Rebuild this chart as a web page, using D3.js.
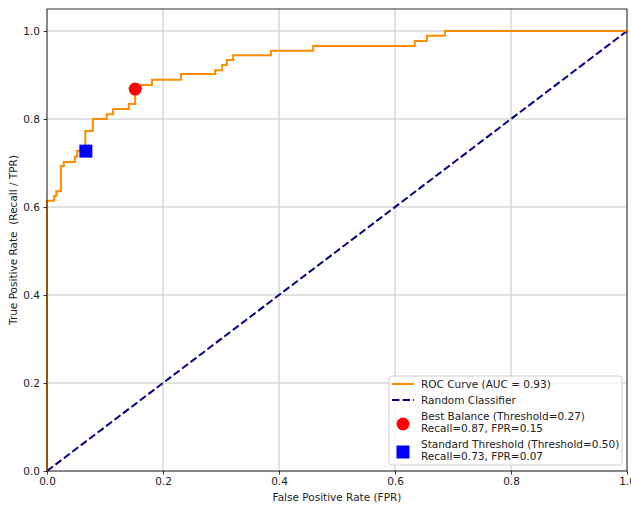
<!DOCTYPE html>
<html>
<head>
<meta charset="utf-8">
<script src="https://cdn.jsdelivr.net/npm/d3@7"></script>
<style>
  html, body { margin: 0; padding: 0; background: #fff; }
  svg { display: block; font-family: "DejaVu Sans", sans-serif; }
</style>
</head>
<body>
<svg id="chart" width="631" height="506"></svg>
<script>
// ROC curve steps (false positive rate, true positive rate)
const rocFpr = [0, 0, 0.012, 0.012, 0.016, 0.016, 0.024, 0.024, 0.029, 0.029, 0.048, 0.048, 0.052, 0.052,
  0.066, 0.066, 0.079, 0.079, 0.103, 0.103, 0.114, 0.114, 0.141, 0.141, 0.152, 0.152, 0.162, 0.162,
  0.181, 0.181, 0.231, 0.231, 0.290, 0.290, 0.302, 0.302, 0.310, 0.310, 0.321, 0.321, 0.386, 0.386,
  0.459, 0.459, 0.634, 0.634, 0.655, 0.655, 0.686, 0.686, 1.0];
const rocTpr = [0, 0.614, 0.614, 0.625, 0.625, 0.636, 0.636, 0.693, 0.693, 0.702, 0.702, 0.714, 0.714, 0.727,
  0.727, 0.773, 0.773, 0.800, 0.800, 0.811, 0.811, 0.823, 0.823, 0.834, 0.834, 0.868, 0.868, 0.877,
  0.877, 0.889, 0.889, 0.902, 0.902, 0.911, 0.911, 0.923, 0.923, 0.934, 0.934, 0.945, 0.945, 0.955,
  0.955, 0.966, 0.966, 0.977, 0.977, 0.989, 0.989, 1.0, 1.0];

// Diagonal reference line
const chanceFpr = [0, 1];
const chanceTpr = [0, 1];

// Highlighted operating points
const bestPoint = { fpr: 0.152, tpr: 0.868 };
const standardPoint = { fpr: 0.067, tpr: 0.727 };

const xTicks = [0, 0.2, 0.4, 0.6, 0.8, 1.0];
const yTicks = [0, 0.2, 0.4, 0.6, 0.8, 1.0];

const legendLabels = [
  ["ROC Curve (AUC = 0.93)"],
  ["Random Classifier"],
  ["Best Balance (Threshold=0.27)", "Recall=0.87, FPR=0.15"],
  ["Standard Threshold (Threshold=0.50)", "Recall=0.73, FPR=0.07"]
];

const svg = d3.select("#chart");
const m = { left: 47, right: 627, top: 9, bottom: 471 };

const x = d3.scaleLinear().domain([0, 1]).range([m.left, m.right]);
const y = d3.scaleLinear().domain([0, 1.05]).range([m.bottom, m.top]);

// grid
const grid = svg.append("g");
grid.selectAll(".gx").data(xTicks).join("line")
  .attr("x1", d => x(d)).attr("x2", d => x(d))
  .attr("y1", m.top).attr("y2", m.bottom)
  .attr("stroke", "#c4c4c4").attr("stroke-width", 1);
grid.selectAll(".gy").data(yTicks).join("line")
  .attr("x1", m.left).attr("x2", m.right)
  .attr("y1", d => y(d)).attr("y2", d => y(d))
  .attr("stroke", "#c4c4c4").attr("stroke-width", 1);

// diagonal
svg.append("path")
  .datum(chanceFpr.map((d, i) => [d, chanceTpr[i]]))
  .attr("d", d3.line().x(d => x(d[0])).y(d => y(d[1])))
  .attr("fill", "none").attr("stroke", "#000080").attr("stroke-width", 2)
  .attr("stroke-dasharray", "7.4,3.2");

// ROC curve
svg.append("path")
  .datum(rocFpr.map((d, i) => [d, rocTpr[i]]))
  .attr("d", d3.line().x(d => x(d[0])).y(d => y(d[1])))
  .attr("fill", "none").attr("stroke", "#ff8c00").attr("stroke-width", 2);

// markers
svg.append("circle")
  .attr("cx", x(bestPoint.fpr)).attr("cy", y(bestPoint.tpr)).attr("r", 6.5)
  .attr("fill", "#ff0000");
svg.append("rect")
  .attr("x", x(standardPoint.fpr) - 6.5).attr("y", y(standardPoint.tpr) - 6.5)
  .attr("width", 13).attr("height", 13).attr("fill", "#0000ff");

// axes
const xAxis = d3.axisBottom(x).tickValues(xTicks).tickFormat(d3.format(".1f")).tickSize(3.5).tickPadding(3.5);
const yAxis = d3.axisLeft(y).tickValues(yTicks).tickFormat(d3.format(".1f")).tickSize(3.5).tickPadding(3.5);

const gx = svg.append("g").attr("transform", `translate(0,${m.bottom})`).call(xAxis);
const gy = svg.append("g").attr("transform", `translate(${m.left},0)`).call(yAxis);
[gx, gy].forEach(g => {
  g.select(".domain").remove();
  g.selectAll(".tick line").attr("stroke", "#000").attr("stroke-width", 0.8);
  g.selectAll(".tick text").attr("font-size", 10.5).attr("fill", "#222")
    .attr("font-family", "DejaVu Sans, sans-serif");
});

// frame
svg.append("rect")
  .attr("x", m.left).attr("y", m.top)
  .attr("width", m.right - m.left).attr("height", m.bottom - m.top)
  .attr("fill", "none").attr("stroke", "#000").attr("stroke-width", 0.8);

// axis titles
svg.append("text")
  .attr("x", (m.left + m.right) / 2).attr("y", 501)
  .attr("text-anchor", "middle").attr("font-size", 10.5).attr("fill", "#222")
  .text("False Positive Rate (FPR)");
svg.append("text")
  .attr("transform", `translate(17,${(m.top + m.bottom) / 2}) rotate(-90)`)
  .attr("text-anchor", "middle").attr("font-size", 10.5).attr("fill", "#222")
  .attr("xml:space", "preserve")
  .style("white-space", "pre")
  .text("True Positive Rate  (Recall / TPR)");

// legend
const lg = svg.append("g");
lg.append("rect")
  .attr("x", 389).attr("y", 376).attr("width", 233).attr("height", 89)
  .attr("rx", 3).attr("fill", "#fff").attr("fill-opacity", 0.8)
  .attr("stroke", "#d0d0d0").attr("stroke-width", 1);

const handleX = 392, textX = 421;
lg.append("line").attr("x1", handleX).attr("x2", handleX + 22).attr("y1", 384).attr("y2", 384)
  .attr("stroke", "#ff8c00").attr("stroke-width", 2);
lg.append("line").attr("x1", handleX).attr("x2", handleX + 22).attr("y1", 400).attr("y2", 400)
  .attr("stroke", "#000080").attr("stroke-width", 2).attr("stroke-dasharray", "7.4,3.2");
lg.append("circle").attr("cx", handleX + 11).attr("cy", 424).attr("r", 6.5).attr("fill", "#ff0000");
lg.append("rect").attr("x", handleX + 4.5).attr("y", 445.5).attr("width", 13).attr("height", 13).attr("fill", "#0000ff");

const lineY = [[388], [404], [420, 432], [448, 460]];
legendLabels.forEach((lines, i) => {
  lines.forEach((t, j) => {
    lg.append("text").attr("x", textX).attr("y", lineY[i][j])
      .attr("font-size", 10.5).attr("fill", "#222").text(t);
  });
});
</script>
</body>
</html>
